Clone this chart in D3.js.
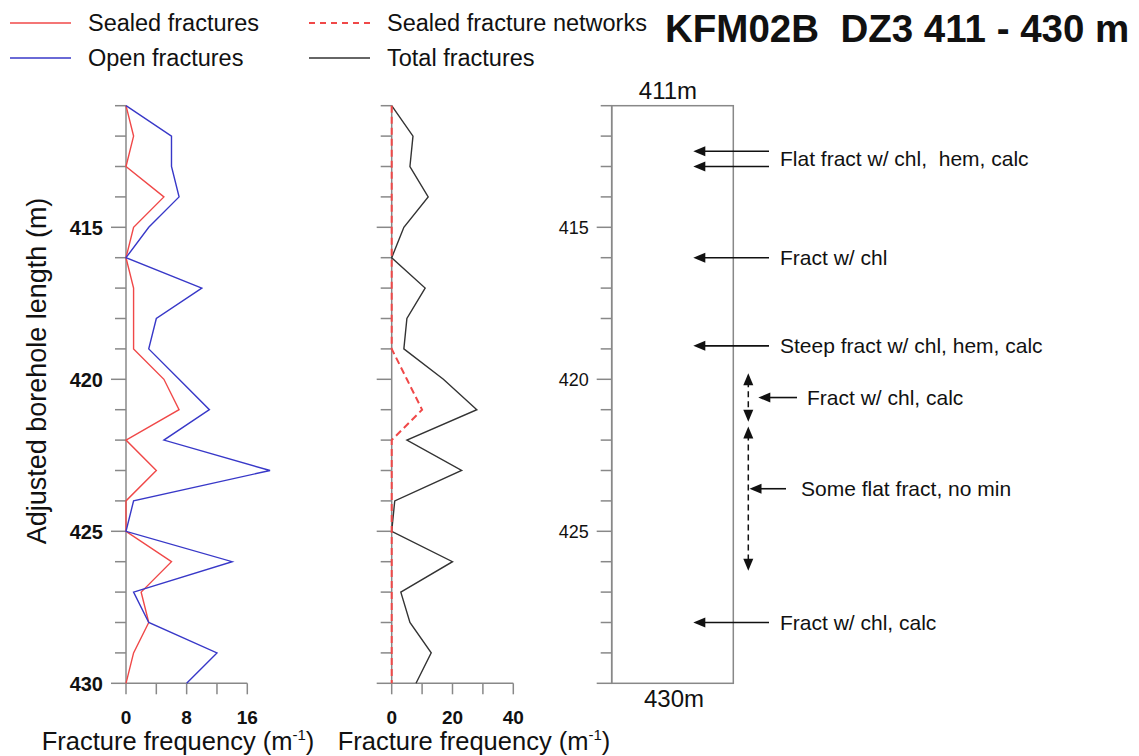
<!DOCTYPE html>
<html>
<head>
<meta charset="utf-8">
<script src="https://cdn.jsdelivr.net/npm/d3@7"></script>
<style>
  body { margin: 0; background: #fff; }
  svg { font-family: "Liberation Sans", Arial, sans-serif; }
  svg text { white-space: pre; }
</style>
</head>
<body>
<svg id="chart" width="1139" height="756"></svg>
<script>
// borehole depths (m) and fracture frequencies (per m)
var depths   = [411, 412, 413, 414, 415, 416, 417, 418, 419, 420, 421, 422, 423, 424, 425, 426, 427, 428, 429, 430];
var sealed   = [0, 1, 0, 5, 1, 0, 1, 1, 1, 5, 7, 0, 4, 0, 0, 6, 2, 3, 1, 0];
var open     = [0, 6, 6, 7, 3, 0, 10, 4, 3, 7, 11, 5, 19, 1, 0, 14, 1, 3, 12, 8];
var networks = [0, 0, 0, 0, 0, 0, 0, 0, 0, 5, 10, 0, 0, 0, 0, 0, 0, 0, 0, 0];
var total    = [0, 7, 6, 12, 4, 0, 11, 5, 4, 17, 28, 5, 23, 1, 0, 20, 3, 6, 13, 8];

var depthLabels = [415, 420, 425, 430];
var leftTicks = [0, 4, 8, 12, 16];
var leftLabels = [0, 8, 16];
var midTicks = [0, 10, 20, 30, 40];
var midLabels = [0, 20, 40];

// core log notes
var noteText   = ["Flat fract w/ chl,  hem, calc", "Fract w/ chl", "Steep fract w/ chl, hem, calc", "Fract w/ chl, calc", "Some flat fract, no min", "Fract w/ chl, calc"];
var noteDepths = [[412.5, 413], [416], [418.9], [420.6], [423.6], [428]];
var noteTarget = ["core", "core", "core", "zone1", "zone2", "core"];
var zones = [[419.8, 421.4], [421.55, 426.3]];

var svg = d3.select("#chart");
var red = "#f04848", blue = "#3838c8", dark = "#333", axisCol = "#888";

var y = d3.scaleLinear().domain([411, 430]).range([105.7, 683.3]);
var xL = d3.scaleLinear().domain([0, 16]).range([126, 247.3]);
var xM = d3.scaleLinear().domain([0, 40]).range([391.7, 513.3]);

// depth axis with long ticks at 5 m
function depthAxis(x0, labels, bold) {
    var g = svg.append("g");
    g.append("line").attr("x1", x0).attr("x2", x0).attr("y1", y(411)).attr("y2", y(430))
        .attr("stroke", axisCol).attr("stroke-width", 1.5);
    depths.forEach(function(d) {
        var major = d % 5 == 0;
        g.append("line").attr("x1", x0 - (major ? 15 : 11)).attr("x2", x0)
            .attr("y1", y(d)).attr("y2", y(d)).attr("stroke", axisCol).attr("stroke-width", 1.5);
    });
    if (labels) {
        labels.forEach(function(d) {
            g.append("text").attr("x", x0 - 23).attr("y", y(d)).attr("dy", "0.36em")
                .attr("text-anchor", "end").attr("font-size", bold ? 20 : 18)
                .attr("font-weight", bold ? "bold" : "normal").attr("fill", "#111").text(d);
        });
    }
}

function freqAxis(x, ticks, labels, titleX) {
    var g = svg.append("g");
    g.append("line").attr("x1", x.range()[0]).attr("x2", x.range()[1])
        .attr("y1", y(430)).attr("y2", y(430)).attr("stroke", axisCol).attr("stroke-width", 1.5);
    ticks.forEach(function(t) {
        g.append("line").attr("x1", x(t)).attr("x2", x(t)).attr("y1", y(430)).attr("y2", y(430) + 11)
            .attr("stroke", axisCol).attr("stroke-width", 1.5);
    });
    labels.forEach(function(t) {
        g.append("text").attr("x", x(t)).attr("y", 724).attr("text-anchor", "middle")
            .attr("font-size", 19).attr("font-weight", "bold").attr("fill", "#111").text(t);
    });
    var title = g.append("text").attr("x", titleX).attr("y", 750)
        .attr("text-anchor", "middle").attr("font-size", 25.5).attr("fill", "#111");
    title.append("tspan").text("Fracture frequency (m");
    title.append("tspan").attr("font-size", 15).attr("dy", -10).text("-1");
    title.append("tspan").attr("dy", 10).text(")");
}

depthAxis(xL(0), depthLabels, true);
depthAxis(xM(0), null, false);
freqAxis(xL, leftTicks, leftLabels, 178);
freqAxis(xM, midTicks, midLabels, 474);

svg.append("text").attr("transform", "translate(46,371) rotate(-90)")
    .attr("text-anchor", "middle").attr("font-size", 27).attr("fill", "#111")
    .text("Adjusted borehole length (m)");

function drawLine(x, values, color, dash) {
    var line = d3.line().x(function(d) { return x(d); }).y(function(d, i) { return y(depths[i]); });
    svg.append("path").datum(values).attr("d", line).attr("fill", "none")
        .attr("stroke", color).attr("stroke-width", dash ? 2 : 1.4)
        .attr("stroke-dasharray", dash ? "7,4" : null);
}

drawLine(xL, sealed, red);
drawLine(xL, open, blue);
drawLine(xM, total, dark);
drawLine(xM, networks, red, true);

// legend
var legend = [
    {label: "Sealed fractures", color: red, x: 10, y: 23},
    {label: "Open fractures", color: blue, x: 10, y: 58},
    {label: "Sealed fracture networks", color: red, x: 309, y: 23, dash: true},
    {label: "Total fractures", color: dark, x: 309, y: 58}
];
legend.forEach(function(l) {
    svg.append("line").attr("x1", l.x).attr("x2", l.x + 61).attr("y1", l.y).attr("y2", l.y)
        .attr("stroke", l.color).attr("stroke-width", l.dash ? 2 : 1.3)
        .attr("stroke-dasharray", l.dash ? "6,5" : null);
    svg.append("text").attr("x", l.x + 78).attr("y", l.y).attr("dy", "0.35em")
        .attr("font-size", 23.5).attr("fill", "#111").text(l.label);
});

svg.append("text").attr("x", 665).attr("y", 42).attr("font-size", 38.5).attr("font-weight", "bold")
    .attr("fill", "#111").text("KFM02B  DZ3 411 - 430 m");

// core log panel
var boxL = 611.7, boxR = 733.3;
depthAxis(boxL, [415, 420, 425], false);
svg.append("rect").attr("x", boxL).attr("y", y(411)).attr("width", boxR - boxL).attr("height", y(430) - y(411))
    .attr("fill", "none").attr("stroke", axisCol).attr("stroke-width", 1.5);
svg.append("text").attr("x", 668).attr("y", 99).attr("text-anchor", "middle")
    .attr("font-size", 24).attr("fill", "#111").text("411m");
svg.append("text").attr("x", 674).attr("y", 707).attr("text-anchor", "middle")
    .attr("font-size", 24).attr("fill", "#111").text("430m");

function arrowHead(x, yy, dir, len, w) {
    // dir: "left", "up", "down"
    var pts;
    if (dir == "left") pts = [[x, yy], [x + len, yy - w], [x + len, yy + w]];
    else if (dir == "up") pts = [[x, yy], [x - w, yy + len], [x + w, yy + len]];
    else pts = [[x, yy], [x - w, yy - len], [x + w, yy - len]];
    svg.append("path").attr("d", "M" + pts.join("L") + "Z").attr("fill", "#111");
}

var zoneX = 748.3;
zones.forEach(function(z) {
    svg.append("line").attr("x1", zoneX).attr("x2", zoneX).attr("y1", y(z[0]) + 8).attr("y2", y(z[1]) - 8)
        .attr("stroke", "#111").attr("stroke-width", 1.5).attr("stroke-dasharray", "6,4");
    arrowHead(zoneX, y(z[0]), "up", 12, 5);
    arrowHead(zoneX, y(z[1]), "down", 12, 5);
});

var targets = {
    core:  {tip: 693.3, tail: 769, text: 780},
    zone1: {tip: 758.3, tail: 797, text: 807},
    zone2: {tip: 749.5, tail: 786, text: 801}
};
noteText.forEach(function(t, i) {
    var tg = targets[noteTarget[i]];
    var ds = noteDepths[i];
    ds.forEach(function(d) {
        svg.append("line").attr("x1", tg.tip + 10).attr("x2", tg.tail).attr("y1", y(d)).attr("y2", y(d))
            .attr("stroke", "#111").attr("stroke-width", 1.6);
        arrowHead(tg.tip, y(d), "left", 12, 5);
    });
    var ty = d3.mean(ds, function(d) { return y(d); });
    svg.append("text").attr("x", tg.text).attr("y", ty).attr("dy", "0.35em")
        .attr("font-size", 21).attr("fill", "#111").text(t);
});
</script>
</body>
</html>
